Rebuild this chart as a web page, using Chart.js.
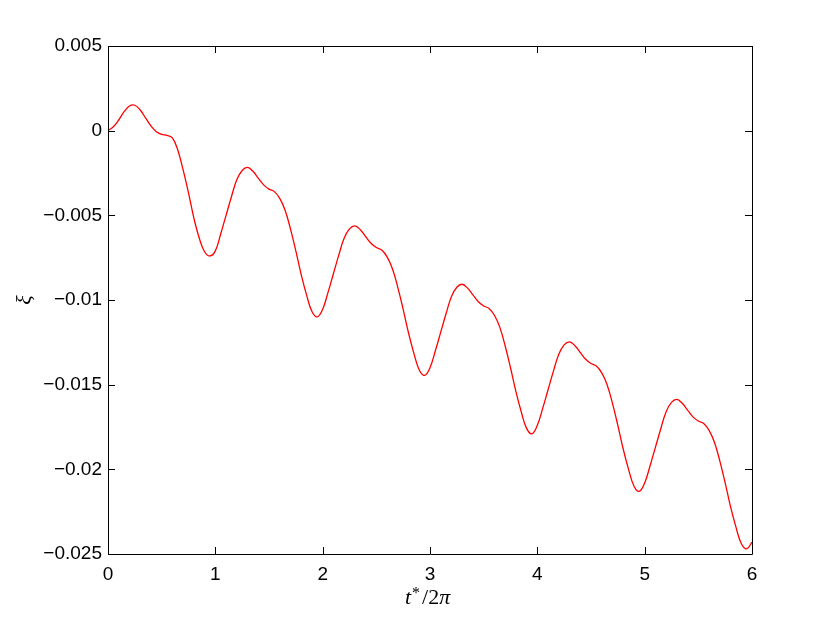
<!DOCTYPE html>
<html>
<head>
<meta charset="utf-8">
<script src="https://cdn.jsdelivr.net/npm/chart.js@4.4.1/dist/chart.umd.min.js"></script>
<style>
  html, body { margin: 0; padding: 0; background: #fff; }
  #wrap { width: 830px; height: 625px; }
</style>
</head>
<body>
<div id="wrap"><canvas id="c" width="830" height="625"></canvas></div>
<script>
// t*/2π sample times
const tValues = [
  0.00,0.05,0.10,0.15,0.20,0.25,0.30,0.35,0.40,0.45,0.50,0.55,0.60,0.65,0.70,0.75,0.80,0.85,0.90,0.95,
  1.00,1.05,1.10,1.15,1.20,1.25,1.30,1.35,1.40,1.45,1.50,1.55,1.60,1.65,1.70,1.75,1.80,1.85,1.90,1.95,
  2.00,2.05,2.10,2.15,2.20,2.25,2.30,2.35,2.40,2.45,2.50,2.55,2.60,2.65,2.70,2.75,2.80,2.85,2.90,2.95,
  3.00,3.05,3.10,3.15,3.20,3.25,3.30,3.35,3.40,3.45,3.50,3.55,3.60,3.65,3.70,3.75,3.80,3.85,3.90,3.95,
  4.00,4.05,4.10,4.15,4.20,4.25,4.30,4.35,4.40,4.45,4.50,4.55,4.60,4.65,4.70,4.75,4.80,4.85,4.90,4.95,
  5.00,5.05,5.10,5.15,5.20,5.25,5.30,5.35,5.40,5.45,5.50,5.55,5.60,5.65,5.70,5.75,5.80,5.85,5.90,5.95,
  6.00
];
// ξ values
const xiValues = [
  0, 0.00023, 0.00063, 0.00112, 0.00146, 0.0015, 0.00122, 0.00075, 0.00028, -0.00006,
  -0.00022, -0.00028, -0.00043, -0.00114, -0.00232, -0.00368, -0.00516, -0.00634, -0.00715, -0.0074,
  -0.0071, -0.0061, -0.0050, -0.0039, -0.0029, -0.00235, -0.00217, -0.0024, -0.0028, -0.0032,
  -0.00345, -0.0036, -0.0040, -0.0047, -0.0058, -0.0071, -0.0085, -0.0097, -0.01068, -0.0110,
  -0.01055, -0.00955, -0.00845, -0.00735, -0.00635, -0.0058, -0.00562, -0.00585, -0.00625, -0.00665,
  -0.0069, -0.00705, -0.00745, -0.00815, -0.00925, -0.01055, -0.01195, -0.01315, -0.01413, -0.01445,
  -0.0140, -0.0130, -0.0119, -0.0108, -0.0098, -0.00925, -0.00907, -0.0093, -0.0097, -0.0101,
  -0.01035, -0.0105, -0.0109, -0.0116, -0.0127, -0.0140, -0.0154, -0.0166, -0.01758, -0.0179,
  -0.0174, -0.0164, -0.0153, -0.0142, -0.0132, -0.01265, -0.01247, -0.0127, -0.0131, -0.0135,
  -0.01375, -0.0139, -0.0143, -0.0150, -0.0161, -0.0174, -0.0188, -0.0200, -0.02098, -0.0213,
  -0.0208, -0.0198, -0.0187, -0.0176, -0.0166, -0.01605, -0.01587, -0.0161, -0.0165, -0.0169,
  -0.01715, -0.0173, -0.0177, -0.0184, -0.0195, -0.0208, -0.0222, -0.0234, -0.02438, -0.0247,
  -0.0243
];
const xTickLabels = ['0','1','2','3','4','5','6'];
const yTickLabels = ['\u22120.025','\u22120.02','\u22120.015','\u22120.01','\u22120.005','0','0.005'];

const points = tValues.map((t, i) => ({ x: t, y: xiValues[i] }));

const boxPlugin = {
  id: 'box',
  afterDraw(chart) {
    const ctx = chart.ctx;
    const a = chart.chartArea;
    const xs = chart.scales.x, ys = chart.scales.y;
    const TL = 7;
    ctx.save();
    ctx.strokeStyle = '#000';
    ctx.lineWidth = 1;
    ctx.beginPath();
    ctx.rect(Math.round(a.left) + 0.5, Math.round(a.top) + 0.5,
             Math.round(a.right - a.left), Math.round(a.bottom - a.top));
    ctx.stroke();
    ctx.beginPath();
    xs.ticks.forEach(tk => {
      const px = Math.round(xs.getPixelForValue(tk.value)) + 0.5;
      ctx.moveTo(px, a.bottom); ctx.lineTo(px, a.bottom - TL);
      ctx.moveTo(px, a.top); ctx.lineTo(px, a.top + TL);
    });
    ys.ticks.forEach(tk => {
      const py = Math.round(ys.getPixelForValue(tk.value)) + 0.5;
      ctx.moveTo(a.left, py); ctx.lineTo(a.left + TL, py);
      ctx.moveTo(a.right, py); ctx.lineTo(a.right - TL, py);
    });
    ctx.stroke();

    // x axis title: t*/2π
    ctx.fillStyle = '#000';
    ctx.textBaseline = 'alphabetic';
    ctx.textAlign = 'left';
    let x = 405, base = 604;
    ctx.font = 'italic 22px "Liberation Serif", serif';
    ctx.fillText('t', x, base); x += ctx.measureText('t').width + 1;
    ctx.font = '16px "Liberation Serif", serif';
    ctx.fillText('*', x, base - 6); x += ctx.measureText('*').width + 2;
    ctx.font = '22px "Liberation Serif", serif';
    ctx.fillText('/2', x, base); x += ctx.measureText('/2').width;
    ctx.font = 'italic 22px "Liberation Serif", serif';
    ctx.fillText('\u03c0', x, base);

    // y axis title: ξ
    ctx.save();
    ctx.translate(31, 300);
    ctx.rotate(-Math.PI / 2);
    ctx.textAlign = 'center';
    ctx.textBaseline = 'alphabetic';
    ctx.font = 'italic 22px "Liberation Serif", serif';
    ctx.fillText('\u03be', 0, 0);
    ctx.restore();
    ctx.restore();
  }
};

new Chart(document.getElementById('c'), {
  type: 'line',
  data: {
    datasets: [{
      data: points,
      borderColor: '#ff0000',
      borderWidth: 1.3,
      pointRadius: 0,
      fill: false,
      tension: 0.4
    }]
  },
  options: {
    responsive: false,
    animation: false,
    events: [],
    layout: { padding: { left: 0, top: 46, right: 78, bottom: 0 } },
    plugins: { legend: { display: false }, tooltip: { enabled: false } },
    scales: {
      x: {
        type: 'linear', min: 0, max: 6,
        grid: { display: false, drawTicks: false }, border: { display: false },
        afterFit(s) { s.height = 71; },
        ticks: {
          stepSize: 1, padding: 9, color: '#000',
          font: { family: '"Liberation Sans", Arial, sans-serif', size: 19 },
          maxRotation: 0,
          callback: (v, i) => xTickLabels[i]
        }
      },
      y: {
        type: 'linear', min: -0.025, max: 0.005,
        grid: { display: false, drawTicks: false }, border: { display: false },
        afterFit(s) { s.width = 108; },
        ticks: {
          stepSize: 0.005, padding: 6, color: '#000',
          font: { family: '"Liberation Sans", Arial, sans-serif', size: 19 },
          callback: (v, i) => yTickLabels[i]
        }
      }
    }
  },
  plugins: [boxPlugin]
});
</script>
</body>
</html>
